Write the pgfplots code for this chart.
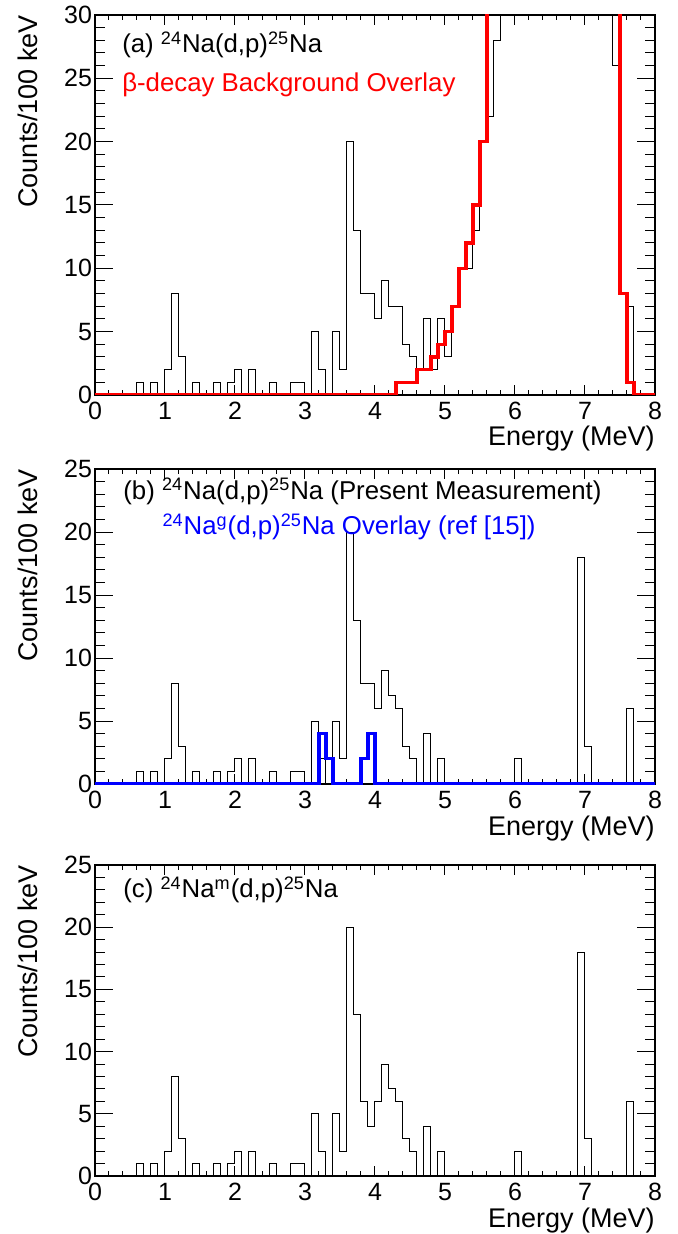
\documentclass[border=0pt]{standalone}
\usepackage{pgfplots}
\usepackage{pgfplotstable}
\pgfplotsset{compat=1.18}
\usepackage{fontspec}
\setmainfont{Liberation Sans}

\pgfplotstableread{
x y
0.0 0
0.6 1
0.7 0
0.8 1
0.9 0
1.0 2
1.1 8
1.2 3
1.3 0
1.4 1
1.5 0
1.7 1
1.8 0
1.9 1
2.0 2
2.1 0
2.2 2
2.3 0
2.5 1
2.6 0
2.8 1
2.9 1
3.0 0
3.1 5
3.2 2
3.3 0
3.4 5
3.5 2
3.6 20
3.7 13
3.8 8
3.9 8
4.0 6
4.1 9
4.2 7
4.3 7
4.4 4
4.5 3
4.6 2
4.7 6
4.8 2
4.9 6
5.0 3
5.1 7
5.2 10
5.3 10
5.4 13
5.5 20
5.6 22
5.7 28
5.8 45
7.4 26
7.5 8
7.6 7
7.7 0
8.0 0
}\histA

\pgfplotstableread{
x y
0.0 0
4.3 1
4.6 2
4.8 3
4.9 4
5.0 5
5.1 7
5.2 10
5.3 12
5.4 15
5.5 20
5.6 60
7.5 8
7.6 1
7.7 0
8.0 0
}\bkgA

\pgfplotstableread{
x y
0.0 0
0.6 1
0.7 0
0.8 1
0.9 0
1.0 2
1.1 8
1.2 3
1.3 0
1.4 1
1.5 0
1.7 1
1.8 0
1.9 1
2.0 2
2.1 0
2.2 2
2.3 0
2.5 1
2.6 0
2.8 1
2.9 1
3.0 0
3.1 5
3.2 2
3.3 0
3.4 5
3.5 2
3.6 20
3.7 13
3.8 8
3.9 8
4.0 6
4.1 9
4.2 7
4.3 6
4.4 3
4.5 2
4.6 0
4.7 4
4.8 0
4.9 2
5.0 0
6.0 2
6.1 0
6.9 18
7.0 3
7.1 0
7.6 6
7.7 0
8.0 0
}\histB

\pgfplotstableread{
x y
0.0 0
3.2 4
3.3 2
3.4 0
3.8 2
3.9 4
4.0 0
8.0 0
}\refB

\pgfplotstableread{
x y
0.0 0
0.6 1
0.7 0
0.8 1
0.9 0
1.0 2
1.1 8
1.2 3
1.3 0
1.4 1
1.5 0
1.7 1
1.8 0
1.9 1
2.0 2
2.1 0
2.2 2
2.3 0
2.5 1
2.6 0
2.8 1
2.9 1
3.0 0
3.1 5
3.2 2
3.3 0
3.4 5
3.5 2
3.6 20
3.7 13
3.8 6
3.9 4
4.0 6
4.1 9
4.2 7
4.3 6
4.4 3
4.5 2
4.6 0
4.7 4
4.8 0
4.9 2
5.0 0
6.0 2
6.1 0
6.9 18
7.0 3
7.1 0
7.6 6
7.7 0
8.0 0
}\histC

\tikzset{anno/.style={anchor=west, font=\fontsize{12.9}{15}\selectfont, inner sep=0pt}}

\pgfplotsset{
  rootstyle/.style={
    width=280pt, scale only axis,
    xmin=0, xmax=8, ymin=0,
    xtick={0,...,8}, minor x tick num=4, minor y tick num=4,
    tick align=inside,
    axis line style={line width=0.6pt},
    every tick/.style={black, line width=0.5pt},
    xtick style={/pgfplots/major tick length=5pt, /pgfplots/minor tick length=2.5pt},
    ytick style={/pgfplots/major tick length=9pt, /pgfplots/minor tick length=5pt},
    /pgf/number format/assume math mode=true,
    ticklabel style={font=\fontsize{12.5}{14}\selectfont},
    yticklabel style={xshift=2pt},
    label style={font=\fontsize{13.5}{15}\selectfont},
    xlabel={Energy (MeV)}, ylabel={Counts/100 keV},
    xlabel style={at={(rel axis cs:1,0)}, anchor=base east, yshift=-25.5pt, inner sep=0pt},
    ylabel style={at={(axis description cs:-0.1196,1)}, anchor=east, inner sep=0pt},
    hist/.style={const plot mark left, no marks, black, line width=0.5pt},
  }
}

\begin{document}
\begin{tikzpicture}
\path[use as bounding box] (-47.5pt,0pt) rectangle (291.5pt,-617pt);

% (a)
\begin{axis}[rootstyle, at={(0pt,-197.5pt)}, anchor=south west,
  height=190pt, ymax=30, ytick={0,5,...,30}]
\addplot[hist] table {\histA};
\addplot[const plot mark left, no marks, red, line width=1.6pt] table {\bkgA};
\node[anno] at (rel axis cs:0.048,0.921) {(a) \textsuperscript{24}Na(d,p)\textsuperscript{25}Na};
\node[anno, red] at (rel axis cs:0.048,0.816) {β-decay Background Overlay};
\end{axis}

% (b)
\begin{axis}[rootstyle, at={(0pt,-392pt)}, anchor=south west,
  height=157.5pt, ymax=25, ytick={0,5,...,25}]
\addplot[hist] table {\histB};
\addplot[const plot mark left, no marks, blue, line width=1.6pt] table {\refB};
\node[anno] at (rel axis cs:0.05,0.93) {(b) \textsuperscript{24}Na(d,p)\textsuperscript{25}Na (Present Measurement)};
\node[anno, blue] at (rel axis cs:0.12,0.816) {\textsuperscript{24}Na\textsuperscript{g}(d,p)\textsuperscript{25}Na Overlay (ref [15])};
\end{axis}

% (c)
\begin{axis}[rootstyle, at={(0pt,-588pt)}, anchor=south west,
  height=155.5pt, ymax=25, ytick={0,5,...,25}]
\addplot[hist] table {\histC};
\node[anno] at (rel axis cs:0.05,0.92) {(c) \textsuperscript{24}Na\textsuperscript{m}(d,p)\textsuperscript{25}Na};
\end{axis}
\end{tikzpicture}
\end{document}
